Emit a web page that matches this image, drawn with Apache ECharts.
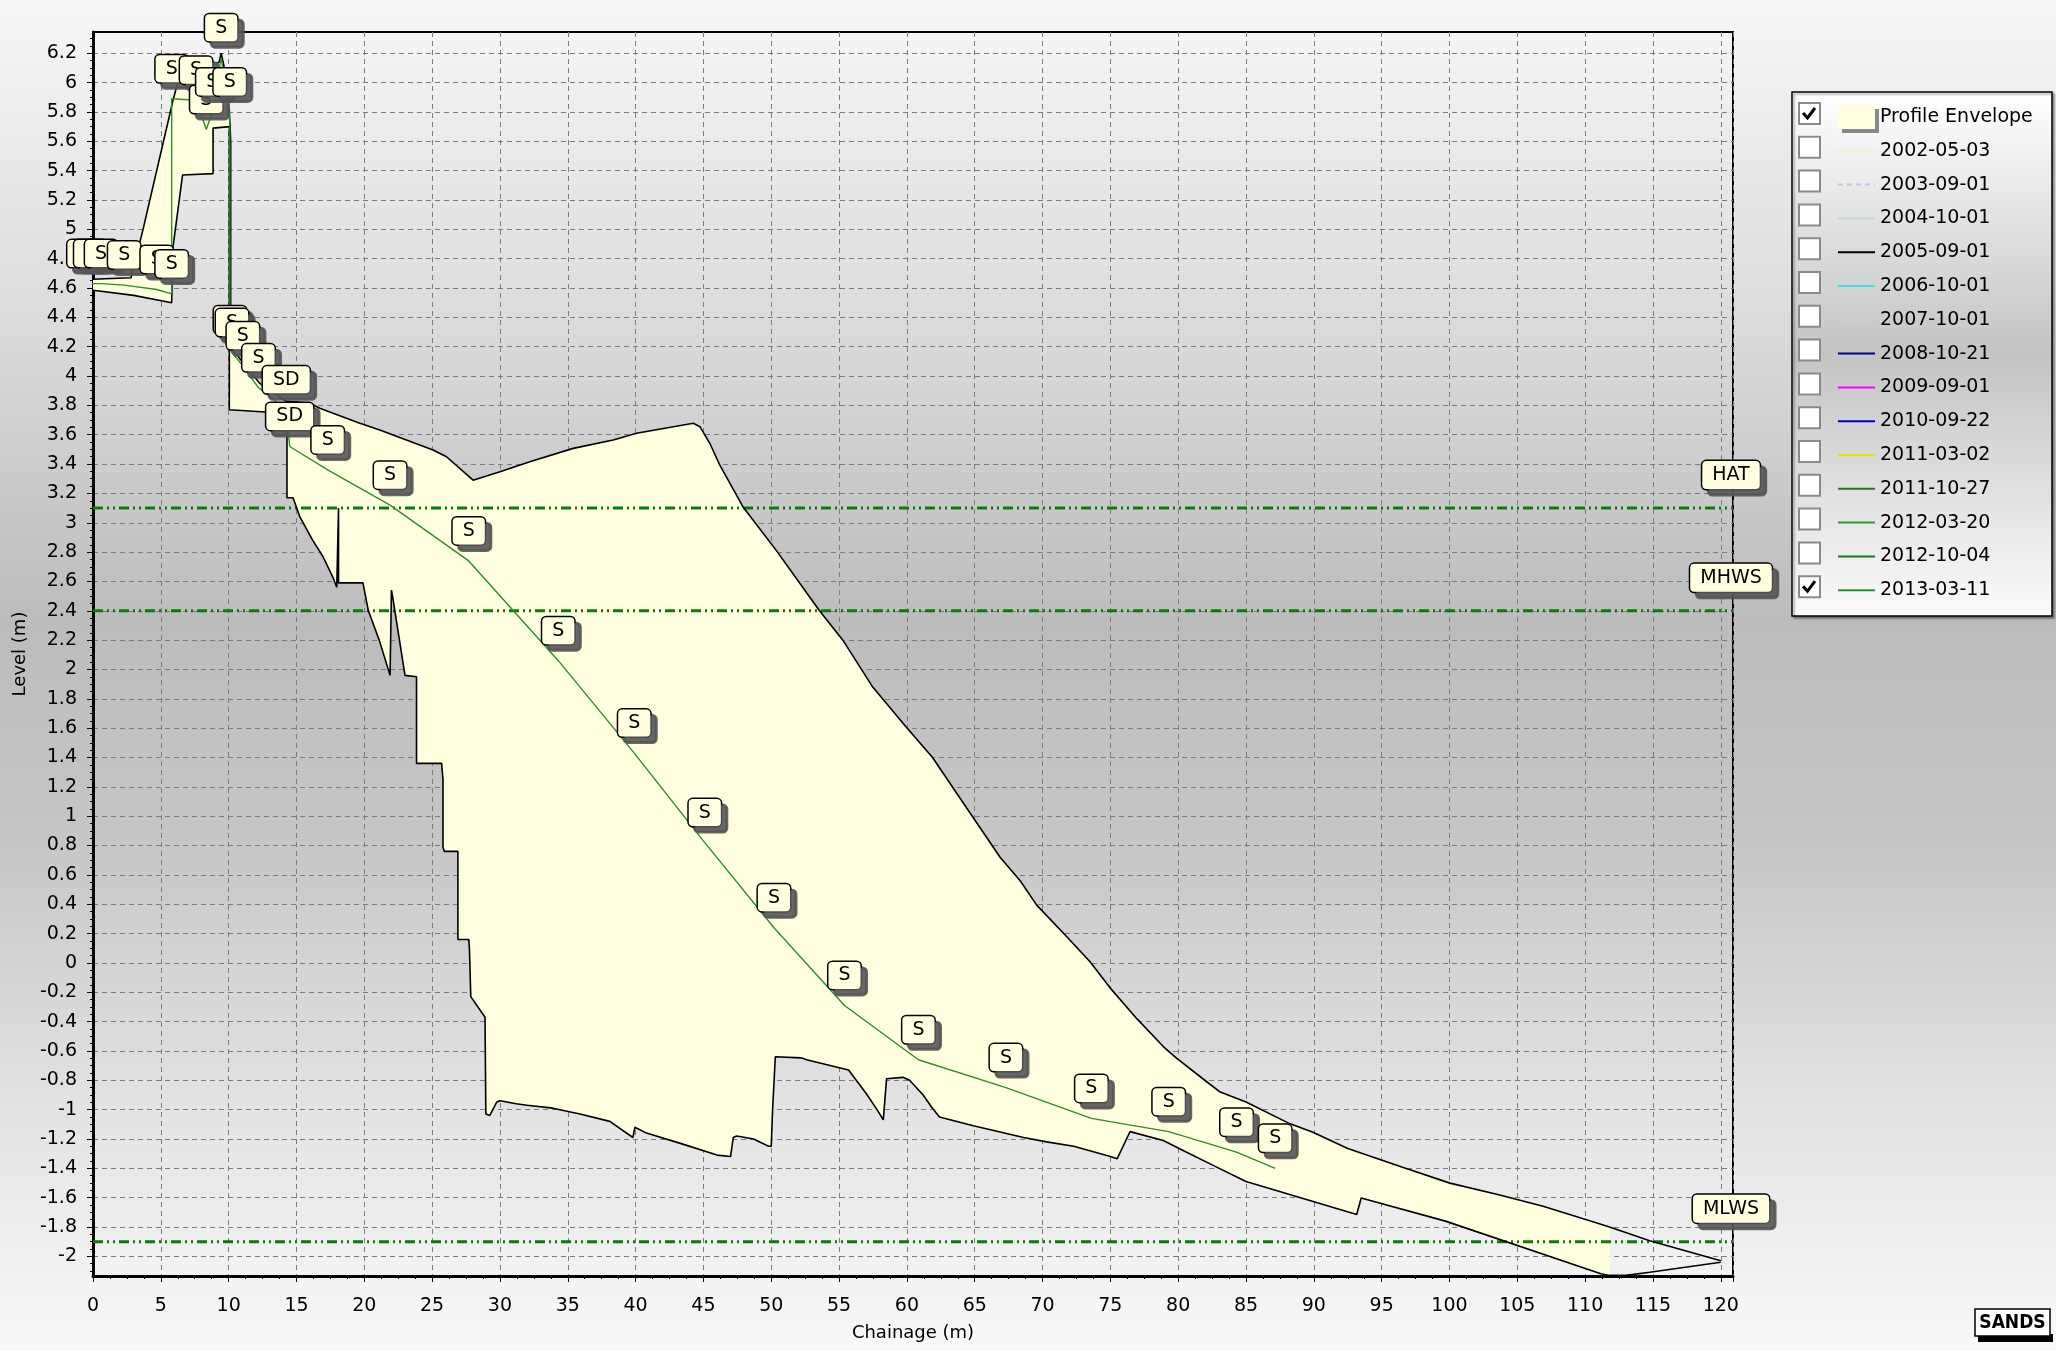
<!DOCTYPE html>
<html><head><meta charset="utf-8">
<script src="https://cdn.jsdelivr.net/npm/echarts/dist/echarts.min.js"></script>
<style>html,body{margin:0;padding:0;background:#fff}#c{width:2056px;height:1351px}</style>
</head><body><div id="c"></div>
<script>
// ---- tick labels ----
const yTickValues = [-2,-1.8,-1.6,-1.4,-1.2,-1,-0.8,-0.6,-0.4,-0.2,0,0.2,0.4,0.6,0.8,1,1.2,1.4,1.6,1.8,2,2.2,2.4,2.6,2.8,3,3.2,3.4,3.6,3.8,4,4.2,4.4,4.6,4.8,5,5.2,5.4,5.6,5.8,6,6.2];
const xTickStep = 5;
const xRange = [0, 120.9];
const yRange = [-2.134, 6.345];

// ---- profile envelope (max / min of all surveys) ----
const envUpperX = [0,2.8,3.69,5.9,6.3,8.0,9.3,9.45,9.8,10.1,10.15,10.15,10.12,12.3,14.2,15.98,16.72,19.67,21.14,25.07,26.06,28.02,30.0,32.2,35.4,38.35,40.07,44.25,44.74,45.48,46.2,47.94,50.38,53.56,55.28,57.48,59.93,61.89,64.82,66.87,68.35,69.57,71.79,73.5,74.98,76.95,78.9,79.9,82.1,83.1,85.0,88.25,89.89,92.5,96.43,100.03,103.63,106.9,111.16,111.8,114.76,120];
const envUpperY = [4.66,4.67,5.0,5.88,6.02,6.08,6.14,6.2,6.05,5.72,5.59,4.45,4.2,3.95,3.83,3.814,3.78,3.678,3.632,3.496,3.45,3.29,3.348,3.416,3.507,3.564,3.61,3.678,3.655,3.54,3.394,3.105,2.81,2.40,2.20,1.88,1.61,1.40,1.0,0.72,0.56,0.394,0.178,0.008,-0.17,-0.38,-0.57,-0.65,-0.81,-0.88,-0.948,-1.097,-1.153,-1.265,-1.389,-1.501,-1.58,-1.658,-1.782,-1.80,-1.894,-2.03];
const envLowerX = [0,3.0,5.8,5.9,5.9,6.6,8.85,8.85,10.05,10.05,12.7,14.3,14.3,14.75,15.25,16.2,16.95,17.68,17.97,18.1,18.1,19.9,20.3,21.1,21.9,22.0,22.1,23.0,23.85,23.85,25.7,25.8,25.8,25.9,26.9,26.9,27.7,27.75,27.85,28.9,28.96,29.25,29.75,30.0,31.2,32.0,33.9,35.9,38.1,39.8,39.95,40.8,43.3,46.0,47.0,47.2,47.45,48.7,49.8,50.0,50.1,50.3,52.2,52.6,55.7,57.0,57.8,58.26,58.5,59.7,60.2,61.2,61.8,62.4,64.9,68.6,70.3,72.3,75.0,75.5,76.45,78.9,80.4,82.8,85.0,93.16,93.49,99.7,111.16,111.8,113.0,114.76,120];
const envLowerY = [4.585,4.55,4.50,4.50,4.88,5.37,5.38,5.69,5.70,3.77,3.755,3.72,3.17,3.17,3.04,2.88,2.77,2.63,2.56,3.1,2.59,2.59,2.40,2.2,1.96,2.54,2.49,1.96,1.95,1.36,1.36,1.25,0.79,0.76,0.76,0.16,0.16,0.10,-0.23,-0.37,-1.03,-1.04,-0.95,-0.94,-0.96,-0.97,-0.99,-1.03,-1.08,-1.19,-1.12,-1.16,-1.23,-1.31,-1.32,-1.19,-1.18,-1.20,-1.25,-1.25,-1.0,-0.64,-0.647,-0.66,-0.73,-0.89,-1.0,-1.07,-0.79,-0.78,-0.8,-0.90,-0.98,-1.05,-1.11,-1.19,-1.22,-1.25,-1.32,-1.335,-1.15,-1.21,-1.28,-1.39,-1.49,-1.715,-1.602,-1.76,-2.119,-2.13,-2.13,-2.108,-2.04];
const envFillEnd = 111.8;

// ---- 2013-03-11 survey ----
const p2013X = [-0.7,-0.2,0.6,2.3,4.7,5.8,5.8,7.6,8.35,8.8,9.45,10.08,10.1,10.25,11.05,12.2,14.25,14.5,17.3,21.9,27.7,34.3,39.9,45.1,50.2,55.4,60.85,67.3,73.6,79.3,84.3,87.15];
const p2013Y = [4.63,4.63,4.63,4.62,4.59,4.56,5.89,5.88,5.68,5.80,6.17,5.8,4.18,4.16,4.07,3.92,3.77,3.52,3.36,3.12,2.74,2.06,1.43,0.82,0.24,-0.29,-0.66,-0.85,-1.06,-1.15,-1.29,-1.40];
const p2013Code = ['S','S','S','S','S','S','S','S','S','S','S','S','S','S','S','S','SD','SD','S','S','S','S','S','S','S','S','S','S','S','S','S','S'];

// ---- tide levels ----
const tideNames = ['HAT','MHWS','MLWS'];
const tideLevels = [3.1, 2.4, -1.9];

// ---- legend ----
const surveyNames = ['2002-05-03','2003-09-01','2004-10-01','2005-09-01','2006-10-01','2007-10-01','2008-10-21','2009-09-01','2010-09-22','2011-03-02','2011-10-27','2012-03-20','2012-10-04','2013-03-11'];
const surveyColors = ['#f4f0c8','#b4cbe8','#c6dcc6','#000000','#3fe0e0','#cfcfcf','#000080','#ff00ff','#0000c8','#efe000','#1f7a1f','#2f9a2f','#157d15','#2a8f2a'];
const surveyDashed = [true,true,false,false,false,false,false,false,false,false,false,false,false,false];
const surveyChecked = [false,false,false,false,false,false,false,false,false,false,false,false,false,true];
const envelopeChecked = true;

// ---------------------------------------------------------------
const FONT = 'DejaVu Sans';
const zip = (xs, ys) => xs.map((x, i) => [x, ys[i]]);
const upperPts = zip(envUpperX, envUpperY);
const lowerPts = zip(envLowerX, envLowerY);
const fillPts = upperPts.filter(p => p[0] <= envFillEnd).concat(lowerPts.filter(p => p[0] <= envFillEnd).reverse());

const boxLabel = (size, pad) => ({
  show: true, position: 'inside', color: '#000', fontFamily: FONT, fontSize: size, lineHeight: size,
  backgroundColor: '#ffffe0', borderColor: '#000', borderWidth: 1.5, borderRadius: 4, opacity: 1,
  padding: pad, shadowColor: 'rgba(85,85,85,0.9)', shadowBlur: 0, shadowOffsetX: 6, shadowOffsetY: 6
});

const yMinor = [];
for (let v = -2.1; v <= 6.33; v += 0.05) yMinor.push(Math.round(v * 100) / 100);

const series = [];
series.push({
  type: 'custom', name: 'Profile Envelope', coordinateSystem: 'cartesian2d', silent: true, z: 1,
  itemStyle: { color: '#ffffe0' }, data: [[0, 0]],
  renderItem: (params, api) => ({
    type: 'polygon', shape: { points: fillPts.map(p => api.coord(p)) },
    style: { fill: '#ffffe0', stroke: null }
  })
});
tideNames.forEach((n, i) => {
  series.push({
    type: 'line', name: n, silent: true, z: 2, symbol: 'none',
    data: [[xRange[0], tideLevels[i]], [xRange[1], tideLevels[i]]],
    lineStyle: { color: '#0b7a0b', width: 3, type: [10, 4, 2, 4, 2, 4] }
  });
});
series.push({ type: 'line', name: 'envUpper', silent: true, z: 3, symbol: 'none', data: upperPts, lineStyle: { color: '#000', width: 1.6 } });
series.push({ type: 'line', name: 'envLower', silent: true, z: 3, symbol: 'none', data: lowerPts, lineStyle: { color: '#000', width: 1.6 } });
surveyNames.forEach((n, i) => {
  const has = n === '2013-03-11';
  series.push({
    type: 'line', name: n, silent: true, z: 4, symbol: 'none',
    data: has ? zip(p2013X, p2013Y) : [],
    itemStyle: { color: surveyColors[i] },
    lineStyle: { color: surveyColors[i], width: has ? 1.4 : 2, type: surveyDashed[i] ? [5, 4] : 'solid' }
  });
});
series.push({
  type: 'scatter', name: 'sediment', silent: true, z: 6, clip: false, symbolSize: 1,
  itemStyle: { color: 'rgba(0,0,0,0)', opacity: 1 },
  data: p2013X.map((x, i) => [x, p2013Y[i], p2013Code[i]]),
  label: Object.assign(boxLabel(19, [4, 10, 4, 10]), { offset: [0, -30], formatter: p => p.value[2] })
});
series.push({
  type: 'scatter', name: 'tideLabels', silent: true, z: 6, clip: false, symbolSize: 1,
  itemStyle: { color: 'rgba(0,0,0,0)', opacity: 1 },
  data: tideNames.map((n, i) => [xRange[1], tideLevels[i], n]),
  label: Object.assign(boxLabel(19, [5, 10, 4, 10]), { offset: [-2, -33], formatter: p => p.value[2] })
});

// legend box + checkboxes
const legTop = 100, legStep = 33.8;
const graphics = [{
  type: 'rect', z: 1, shape: { x: 1792, y: 92, width: 260, height: 524 },
  style: {
    fill: { type: 'linear', x: 0, y: 0, x2: 0, y2: 1, colorStops: [
      { offset: 0, color: '#ffffff' }, { offset: 0.5, color: '#c4c4c4' }, { offset: 1, color: '#fbfbfb' }] },
    stroke: '#000', lineWidth: 1.5, shadowColor: 'rgba(0,0,0,0.35)', shadowOffsetX: 2, shadowOffsetY: 2, shadowBlur: 2
  }
}];
const checks = [envelopeChecked].concat(surveyChecked);
checks.forEach((c, i) => {
  const y = 102 + i * legStep + 1;
  graphics.push({ type: 'rect', z: 10, shape: { x: 1799, y: y, width: 21, height: 21 }, style: { fill: '#ffffff', stroke: '#8a8a8a', lineWidth: 2 } });
  if (c) graphics.push({ type: 'polyline', z: 11, shape: { points: [[1803, y + 10], [1807.5, y + 15], [1815, y + 5]] }, style: { stroke: '#000', lineWidth: 3, fill: null } });
});
// SANDS badge
graphics.push({ type: 'rect', z: 10, shape: { x: 1978, y: 1334, width: 75, height: 8 }, style: { fill: '#000' } });
graphics.push({ type: 'rect', z: 11, shape: { x: 1975, y: 1309, width: 75, height: 27 }, style: { fill: '#fff', stroke: '#000', lineWidth: 1.5 } });
graphics.push({ type: 'text', z: 12, style: { x: 2012.5, y: 1323, text: 'SANDS', fill: '#000', font: 'bold 19px "DejaVu Sans Condensed", "DejaVu Sans"', align: 'center', verticalAlign: 'middle' } });

const legendData = [{ name: 'Profile Envelope', icon: 'rect', itemStyle: { color: '#ffffe0', borderWidth: 0, shadowColor: 'rgba(90,90,90,0.7)', shadowOffsetX: 4, shadowOffsetY: 4, shadowBlur: 0 } }]
  .concat(surveyNames.map(n => ({ name: n })));

const option = {
  animation: false,
  backgroundColor: { type: 'linear', x: 0, y: 0, x2: 0, y2: 1, colorStops: [
    { offset: 0, color: '#f7f7f7' }, { offset: 0.25, color: '#dadada' }, { offset: 0.46, color: '#bcbcbc' },
    { offset: 0.62, color: '#c6c6c6' }, { offset: 0.82, color: '#e3e3e3' }, { offset: 1, color: '#f9f9f9' }] },
  grid: { left: 93, right: 323, top: 32, bottom: 75, show: true, borderColor: '#000', borderWidth: 2, backgroundColor: 'transparent' },
  legend: {
    orient: 'vertical', left: 1832, top: legTop, itemWidth: 37, itemHeight: 24, itemGap: legStep - 24,
    selectedMode: false, z: 5, data: legendData,
    itemStyle: { color: 'rgba(0,0,0,0)', borderColor: 'rgba(0,0,0,0)', borderWidth: 0 },
    lineStyle: { width: 2 },
    textStyle: { fontFamily: FONT, fontSize: 19, lineHeight: 24, color: '#000' }
  },
  xAxis: {
    type: 'value', min: xRange[0], max: xRange[1], interval: xTickStep,
    name: 'Chainage (m)', nameLocation: 'middle', nameGap: 48,
    nameTextStyle: { fontFamily: FONT, fontSize: 18, color: '#000' },
    axisLine: { show: true, onZero: false, lineStyle: { color: '#000', width: 3 } },
    axisTick: { show: true, length: 6, lineStyle: { color: '#000', width: 1 } },
    minorTick: { show: true, splitNumber: 4, length: 3, lineStyle: { color: '#000' } },
    axisLabel: { margin: 21, fontFamily: FONT, fontSize: 19, color: '#000', showMaxLabel: false,
      formatter: v => (Math.abs(v / xTickStep - Math.round(v / xTickStep)) < 1e-6 ? String(v) : '') },
    splitLine: { show: true, lineStyle: { color: '#7c7c7c', width: 1, type: [5, 4] } }
  },
  yAxis: [{
    type: 'value', min: yRange[0], max: yRange[1],
    name: 'Level (m)', nameLocation: 'middle', nameGap: 59, nameRotate: 90,
    nameTextStyle: { fontFamily: FONT, fontSize: 18, color: '#000' },
    axisLine: { show: true, onZero: false, lineStyle: { color: '#000', width: 3 } },
    axisTick: { show: true, length: 6, customValues: yTickValues, lineStyle: { color: '#000' } },
    axisLabel: { margin: 16, fontFamily: FONT, fontSize: 19, color: '#000', customValues: yTickValues },
    splitLine: { show: true, lineStyle: { color: '#7c7c7c', width: 1, type: [5, 4] } }
  }, {
    type: 'value', min: yRange[0], max: yRange[1], position: 'left', offset: 0,
    axisLine: { show: false }, axisLabel: { show: false }, splitLine: { show: false },
    axisTick: { show: true, length: 3, customValues: yMinor, lineStyle: { color: '#000' } }
  }],
  series: series,
  graphic: graphics
};
const chart = echarts.init(document.getElementById('c'));
chart.setOption(option);
</script>
</body></html>
